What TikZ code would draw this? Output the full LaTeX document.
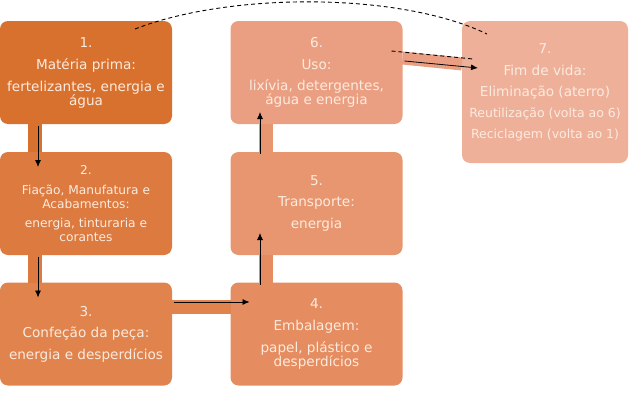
\documentclass[tikz,border=0pt]{standalone}
\usepackage{fontspec}
\setmainfont{DejaVu Sans}
\usetikzlibrary{arrows.meta}

\definecolor{cor1}{HTML}{D9712E}
\definecolor{cor2}{HTML}{DD7A3F}
\definecolor{cor3}{HTML}{E1834D}
\definecolor{cor4}{HTML}{E58D60}
\definecolor{cor5}{HTML}{E8966F}
\definecolor{cor6}{HTML}{EB9F82}
\definecolor{cor7}{HTML}{EFB09A}
\definecolor{texto}{HTML}{FBEBDF}

\begin{document}
\begin{tikzpicture}[x=1pt, y=-1pt]
\tikzset{caixa/.style={rounded corners=8pt, inner sep=0pt, outer sep=0pt,
    minimum width=172pt, minimum height=103pt, text=texto, align=center,
    font=\fontsize{13.6}{14}\selectfont},
  barra/.style={line width=14pt},
  seta/.style={-{Latex[length=7pt,width=6pt]}, line width=0.8pt},
  tracejado/.style={dash pattern=on 4pt off 3pt, line width=0.9pt}}
\useasboundingbox (0, 0) rectangle (630, 407);
\node[caixa, fill=cor1] (E1) at (86, 72.5) {1.\\[8pt]Matéria prima:\\[8pt]fertelizantes, energia e\\água};
\node[caixa, fill=cor2, font=\fontsize{12.2}{14}\selectfont] (E2) at (86, 203.5) {2.\\[6pt]Fiação, Manufatura e\\Acabamentos:\\[5pt]energia, tinturaria e\\corantes};
\node[caixa, fill=cor3] (E3) at (86, 334) {3.\\[7pt]Confeção da peça:\\[8pt]energia e desperdícios};
\node[caixa, fill=cor4] (E4) at (316.5, 334) {4.\\[8pt]Embalagem:\\[8pt]papel, plástico e\\desperdícios};
\node[caixa, fill=cor5] (E5) at (316.5, 203.5) {5.\\[7pt]Transporte:\\[8pt]energia};
\node[caixa, fill=cor6] (E6) at (316.5, 72.5) {6.\\[8pt]Uso:\\[7pt]lixívia, detergentes,\\água e energia};
\node[caixa, fill=cor7, minimum width=166pt, minimum height=142pt] (E7) at (545, 92) {7.\\[8pt]Fim de vida:\\[7pt]Eliminação (aterro)\\[7pt]{\fontsize{12.5}{14}\selectfont Reutilização (volta ao 6)}\\[7pt]{\fontsize{12.5}{14}\selectfont Reciclagem (volta ao 1)}};
% barras
\draw[barra, cor1] ([xshift=-51.5pt]E1.south) -- ([xshift=-51.5pt]E2.north);
\draw[barra, cor2] ([xshift=-51.5pt]E2.south) -- ([xshift=-51.5pt]E3.north);
\draw[barra, cor3] ([yshift=27.5pt]E3.east) -- ([yshift=27.5pt]E4.west);
\draw[barra, cor4] ([xshift=-51pt]E4.north) -- ([xshift=-51pt]E5.south);
\draw[barra, cor5] ([xshift=-51pt]E5.north) -- ([xshift=-51pt]E6.south);
\draw[barra, cor6, line width=13pt] ([yshift=14.5pt]E6.east) -- ([yshift=28pt]E7.west);
% setas
\draw[seta] ([xshift=-48pt, yshift=-2pt]E1.south) -- ([xshift=-48pt, yshift=-15pt]E2.north);
\draw[seta] ([xshift=-48pt, yshift=-2pt]E2.south) -- ([xshift=-48pt, yshift=-15pt]E3.north);
\draw[seta] ([xshift=2pt, yshift=32pt]E3.east) -- ([xshift=19pt, yshift=32pt]E4.west);
\draw[seta] ([xshift=-56.5pt, yshift=-2pt]E4.north) -- ([xshift=-56.5pt, yshift=22pt]E5.south);
\draw[seta] ([xshift=-56.5pt, yshift=-2pt]E5.north) -- ([xshift=-56.5pt, yshift=12pt]E6.south);
\draw[seta] ([xshift=2pt, yshift=11.5pt]E6.east) -- ([xshift=16pt, yshift=24pt]E7.west);
% retorno
\draw[tracejado] ([xshift=-11pt, yshift=21.5pt]E6.east) -- ([xshift=11pt, yshift=33pt]E7.west);
\draw[tracejado] ([xshift=49pt, yshift=-8pt]E1.north) .. controls (230, -8) and (400, -8) .. ([xshift=-58pt, yshift=-13pt]E7.north);
\end{tikzpicture}
\end{document}
